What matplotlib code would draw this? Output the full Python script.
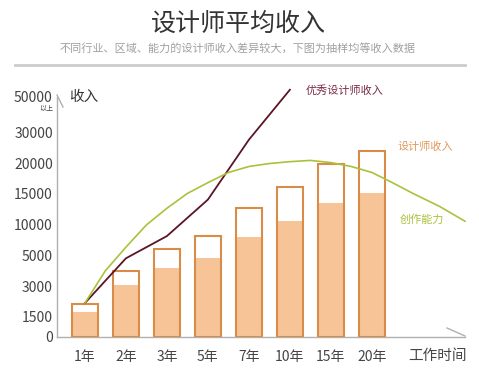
import numpy as np
import matplotlib
matplotlib.use("Agg")
import matplotlib.pyplot as plt
from matplotlib.lines import Line2D

plt.rcParams["font.family"] = ["Noto Sans CJK SC", "DejaVu Sans"]

# data
years = ["1年", "2年", "3年", "5年", "7年", "10年", "15年", "20年"]
income_top = [2100, 4000, 6000, 8100, 12700, 16000, 20000, 24200]
income_avg = [1700, 3050, 4200, 4800, 7900, 10500, 13400, 15000]
top_designer = [2150, 4800, 8100, 14000, 27700, 54000]
# creativity curve, read every half step along the time axis
creativity = [2150, 4000, 6300, 9900, 12600, 15000, 16800, 18500, 19500, 20000,
              20600, 21000, 20300, 19500, 18500, 16800, 15000, 12900, 10500]
creativity_t = [0, 0.5, 1, 1.5, 2, 2.5, 3, 3.5, 4, 4.5,
                5, 5.5, 6, 6.5, 7, 7.5, 8, 8.65, 9.27]
y_ticks = [0, 1500, 3000, 5000, 10000, 15000, 20000, 30000, 50000]

# uneven value axis: each tick sits roughly evenly spaced
scale_vals = [0, 1500, 3000, 5000, 10000, 15000, 20000, 30000, 50000, 70000]
scale_pos = [0, 21, 51, 82, 113, 144, 174, 205, 241, 276]


def fwd(v):
    return np.interp(v, scale_vals, scale_pos)


def inv(p):
    return np.interp(p, scale_pos, scale_vals)


W, H = 479, 373
fig = plt.figure(figsize=(W / 100, H / 100), dpi=100)


def fx(x):
    return x / W


def fy(y):
    return 1 - y / H


ax = fig.add_axes([fx(57), fy(337), (465 - 57) / W, (337 - 88) / H])
ax.set_yscale("function", functions=(fwd, inv))
ax.set_ylim(0, 55000)
ax.set_xlim(-0.68, 9.27)

orange = "#d98c47"
peach = "#f7c497"
x = np.arange(len(years))
ax.bar(x, income_avg, width=0.63, color=peach, edgecolor="none", zorder=2)
ax.bar(x, income_top, width=0.63, facecolor="none", edgecolor=orange, lw=1.5, zorder=3)

ax.plot(np.arange(len(top_designer)), top_designer, color="#5a1526", lw=1.3, zorder=4)
ax.plot(creativity_t, creativity, color="#a9c23c", lw=1.2, zorder=4, clip_on=False)

ax.set_yticks(y_ticks)
ax.set_yticklabels([str(v) for v in y_ticks])
ax.set_xticks(x)
ax.set_xticklabels(years)
ax.tick_params(axis="both", length=0, labelsize=10, labelcolor="#444444")
ax.tick_params(axis="y", pad=3)
ax.tick_params(axis="x", pad=9)
for s in ["top", "right"]:
    ax.spines[s].set_visible(False)
for s in ["left", "bottom"]:
    ax.spines[s].set_color("#b0b0b0")
    ax.spines[s].set_linewidth(1)
ax.spines["left"].set_bounds(0, 50000)

# axis end marks
fig.add_artist(Line2D([fx(57), fx(63)], [fy(95), fy(107)], color="#b0b0b0", lw=1))
fig.add_artist(Line2D([fx(447), fx(465)], [fy(328), fy(336)], color="#b0b0b0", lw=1))

# titles and labels
fig.text(fx(238), fy(24), "设计师平均收入", ha="center", va="center", fontsize=18,
         color="#333333", fontweight="light")
fig.text(fx(238), fy(48), "不同行业、区域、能力的设计师收入差异较大，下图为抽样均等收入数据",
         ha="center", va="center", fontsize=8, color="#a0a0a0")
fig.add_artist(Line2D([fx(15), fx(465)], [fy(65), fy(65)], color="#cccccc", lw=2))

fig.text(fx(53), fy(109), "以上", ha="right", va="center", fontsize=5, color="#444444")
fig.text(fx(69), fy(97), "收入", ha="left", va="center", fontsize=10.5, color="#333333")
fig.text(fx(437), fy(356), "工作时间", ha="center", va="center", fontsize=10.5, color="#444444")

fig.text(fx(306), fy(90), "优秀设计师收入", ha="left", va="center", fontsize=8, color="#7a2a48")
fig.text(fx(397), fy(147), "设计师收入", ha="left", va="center", fontsize=8, color="#e09a5a")
fig.text(fx(400), fy(220), "创作能力", ha="left", va="center", fontsize=8, color="#a9c23c")

fig.savefig("out.png", dpi=100)
